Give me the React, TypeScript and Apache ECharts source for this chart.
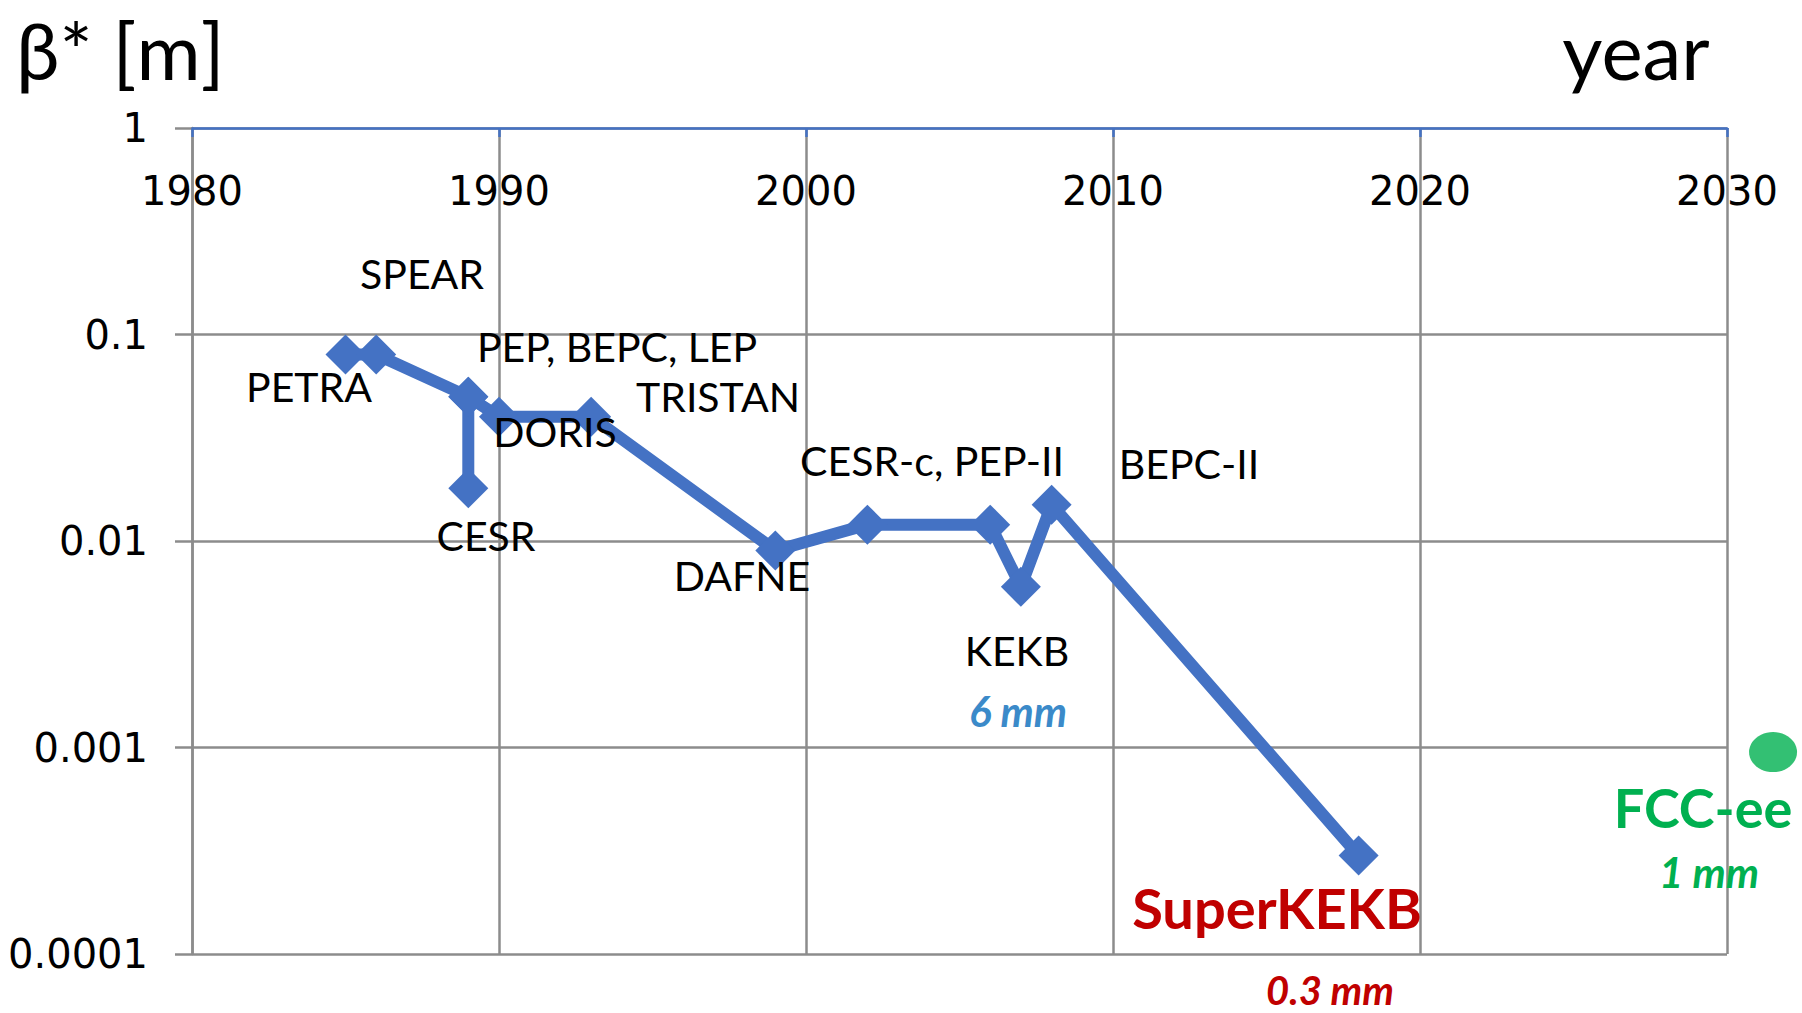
import React, { useEffect, useRef } from "react";
import * as echarts from "echarts";

// Machine history: year of operation and beta* [m]
const years = [1985, 1986, 1989, 1989, 1989, 1990, 1993, 1999, 2002, 2006, 2007, 2008, 2018];
const betaStar = [0.08, 0.08, 0.05, 0.018, 0.05, 0.04, 0.04, 0.009, 0.012, 0.012, 0.006, 0.015, 0.0003];
// FCC-ee design point
const fccYear = [2031.5];
const fccBeta = [0.00095];

const xMin = 1980;
const xMax = 2030;
const xStep = 10;
const yTickLabels = ["0.0001", "0.001", "0.01", "0.1", "1"];

const machineNames = [
  "SPEAR",
  "PETRA",
  "PEP, BEPC, LEP",
  "TRISTAN",
  "DORIS",
  "CESR",
  "DAFNE",
  "CESR-c, PEP-II",
  "BEPC-II",
  "KEKB",
];

// label layout (pixel centres), kept apart from the data
const machineLabelPos: [number, number][] = [
  [422, 273],
  [309, 386],
  [617, 346],
  [718, 396],
  [555, 431],
  [486, 535],
  [742, 575],
  [932, 460],
  [1189, 463],
  [1017, 650],
];

const LINE_BLUE = "#4472C4";
const GRID_GRAY = "#8C8C8C";
const ANN_FONT = "Lato, 'Open Sans', sans-serif";

export default function App() {
  const ref = useRef<HTMLDivElement | null>(null);

  useEffect(() => {
    if (!ref.current) return;
    const chart = echarts.init(ref.current, undefined, { renderer: "svg" });

    const machineTexts = machineNames.map((name, i) => ({
      type: "text",
      x: machineLabelPos[i][0],
      y: machineLabelPos[i][1],
      style: {
        text: name,
        fill: "#000",
        font: `41px ${ANN_FONT}`,
        textAlign: "center",
        textVerticalAlign: "middle",
      },
      z: 100,
    }));

    const extraTexts = [
      { text: "β* [m]", x: 16, y: 50, font: `78px ${ANN_FONT}`, fill: "#000", align: "left" },
      { text: "year", x: 1636, y: 50, font: `78px ${ANN_FONT}`, fill: "#000", align: "center" },
      { text: "6 mm", x: 1018, y: 711, font: `italic bold 42px ${ANN_FONT}`, fill: "#3B8AC9", align: "center" },
      { text: "SuperKEKB", x: 1277, y: 907, font: `bold 56px ${ANN_FONT}`, fill: "#C00000", align: "center" },
      { text: "0.3 mm", x: 1330, y: 990, font: `italic bold 40px ${ANN_FONT}`, fill: "#C00000", align: "center" },
      { text: "FCC-ee", x: 1703, y: 807, font: `bold 54px ${ANN_FONT}`, fill: "#00B050", align: "center" },
      { text: "1 mm", x: 1709, y: 872, font: `italic bold 42px ${ANN_FONT}`, fill: "#00B050", align: "center" },
    ].map((t) => ({
      type: "text",
      x: t.x,
      y: t.y,
      style: {
        text: t.text,
        fill: t.fill,
        font: t.font,
        textAlign: t.align,
        textVerticalAlign: "middle",
      },
      z: 100,
    }));

    chart.setOption({
      animation: false,
      backgroundColor: "#fff",
      grid: { left: 192, top: 128, width: 1535, height: 826, containLabel: false },
      xAxis: {
        type: "value",
        position: "top",
        min: xMin,
        max: xMax,
        interval: xStep,
        axisLine: { show: true, onZero: false, lineStyle: { color: LINE_BLUE, width: 2.5 } },
        axisTick: { show: true, inside: true, length: 9, lineStyle: { color: LINE_BLUE, width: 2.5 } },
        axisLabel: {
          inside: true,
          margin: 43,
          showMinLabel: true,
          showMaxLabel: true,
          color: "#000",
          fontFamily: "'DejaVu Sans', sans-serif",
          fontSize: 40,
          formatter: (v: number) => String(v),
        },
        splitLine: { show: true, lineStyle: { color: GRID_GRAY, width: 2.5 } },
      },
      yAxis: {
        type: "log",
        logBase: 10,
        min: 0.0001,
        max: 1,
        axisLine: { show: true, onZero: false, lineStyle: { color: GRID_GRAY, width: 2.5 } },
        axisTick: { show: true, inside: false, length: 17, lineStyle: { color: GRID_GRAY, width: 2.5 } },
        axisLabel: {
          margin: 44,
          color: "#000",
          fontFamily: "'DejaVu Sans', sans-serif",
          fontSize: 40,
          formatter: (v: number) => yTickLabels[Math.round(Math.log10(v)) + 4] ?? "",
        },
        splitLine: { show: true, lineStyle: { color: GRID_GRAY, width: 2.5 } },
      },
      series: [
        {
          type: "line",
          data: years.map((y, i) => [y, betaStar[i]]),
          symbol: "diamond",
          symbolSize: 40,
          showAllSymbol: true,
          lineStyle: { color: LINE_BLUE, width: 12 },
          itemStyle: { color: LINE_BLUE },
          z: 5,
        },
        {
          type: "scatter",
          data: fccYear.map((y, i) => [y, fccBeta[i]]),
          symbol: "circle",
          symbolSize: [48, 40],
          itemStyle: { color: "#00B050" },
          clip: false,
          z: 6,
        },
      ],
      graphic: [...machineTexts, ...extraTexts],
    });

    return () => chart.dispose();
  }, []);

  return (
    <div
      ref={ref}
      style={{ position: "fixed", left: 0, top: 0, width: 1802, height: 1013, background: "#fff" }}
    />
  );
}
